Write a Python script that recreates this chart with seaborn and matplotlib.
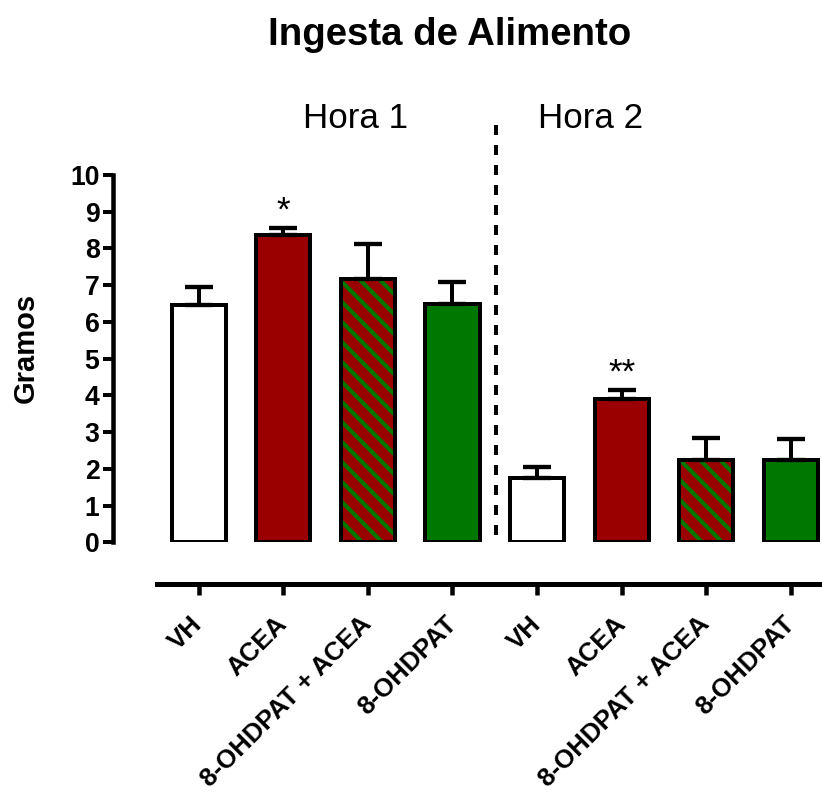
import matplotlib
matplotlib.use("Agg")
import matplotlib.pyplot as plt
from matplotlib.patches import Rectangle
import numpy as np
import pandas as pd
import seaborn as sns

# Food intake (grams) per treatment, first and second hour
horas = ["Hora 1", "Hora 1", "Hora 1", "Hora 1", "Hora 2", "Hora 2", "Hora 2", "Hora 2"]
tratamientos = ["VH", "ACEA", "8-OHDPAT + ACEA", "8-OHDPAT",
                "VH", "ACEA", "8-OHDPAT + ACEA", "8-OHDPAT"]
media = [6.46, 8.36, 7.17, 6.48, 1.75, 3.89, 2.25, 2.25]
error_est = [0.50, 0.20, 0.95, 0.61, 0.30, 0.25, 0.59, 0.55]
significancia = ["", "*", "", "", "", "**", "", ""]
y_ticks = [0, 1, 2, 3, 4, 5, 6, 7, 8, 9, 10]

ROJO = "#9a0000"
VERDE = "#007800"
relleno = {"VH": "white", "ACEA": ROJO, "8-OHDPAT + ACEA": ROJO, "8-OHDPAT": VERDE}

grupos = [f"{h} | {t}" for h, t in zip(horas, tratamientos)]
df = pd.DataFrame({"grupo": grupos, "tratamiento": tratamientos,
                   "hora": horas, "gramos": media})

sns.set_style("ticks")
plt.rcParams["font.family"] = ["Liberation Sans", "DejaVu Sans"]
plt.rcParams["hatch.linewidth"] = 2.5
for k in ["text.color", "axes.labelcolor", "xtick.color", "ytick.color",
          "axes.edgecolor"]:
    plt.rcParams[k] = "black"

DPI = 120
W, H = 822, 796
fig = plt.figure(figsize=(W / DPI, H / DPI), dpi=DPI)
ax = fig.add_axes([112.5 / W, (H - 542.3) / H, 710.4 / W, 367.3 / H])

palette = {g: relleno[t] for g, t in zip(grupos, tratamientos)}
sns.barplot(data=df, x="grupo", y="gramos", hue="grupo", order=grupos,
            hue_order=grupos, palette=palette, errorbar=None, legend=False,
            width=0.64, edgecolor="black", linewidth=2.4, saturation=1,
            ax=ax)

# Combined treatment: green diagonal stripes on red, with a black outline
barras = sorted(ax.patches, key=lambda p: p.get_x())
for barra, trat in zip(barras, tratamientos):
    barra.set_zorder(2)
    if trat == "8-OHDPAT + ACEA":
        barra.set_hatch("\\\\")
        barra.set_edgecolor(VERDE)
        barra.set_linewidth(0)
        ax.add_patch(Rectangle(barra.get_xy(), barra.get_width(),
                               barra.get_height(), fill=False,
                               edgecolor="black", linewidth=2.4, zorder=3))

# Upper SEM whiskers
pos = np.arange(len(media))
ax.errorbar(pos, media, yerr=[np.zeros(len(media)), error_est], fmt="none",
            ecolor="black", elinewidth=2.4, capsize=8.4, capthick=2.6,
            zorder=4)

# Significance marks above the whiskers
for x, m, e, s in zip(pos, media, error_est, significancia):
    if s:
        ax.text(x, m + e + 0.2, s, ha="center", va="baseline",
                fontsize=21, color="black")

# Hour headers and separator
for h in dict.fromkeys(horas):
    idx = [i for i, hh in enumerate(horas) if hh == h]
    xc = 1.85 if idx[0] == 0 else 4.63
    ax.text(xc, 11.27, h, ha="center", va="baseline", fontsize=21,
            clip_on=False)
ax.plot([3.52, 3.52], [0.2, 11.41], color="black", lw=2.4,
        dashes=(2.5, 2.5), clip_on=False, zorder=1)

# Spines (offset bottom axis) before tick labels, since moving a spine
# rebuilds the ticks
sns.despine(ax=ax, top=True, right=True)
ax.spines["left"].set_linewidth(2.7)
ax.spines["bottom"].set_linewidth(3.0)
ax.spines["bottom"].set_position(("outward", 25.2))

ax.tick_params(axis="y", length=6, width=2.4, pad=1.8, colors="black")
ax.tick_params(axis="x", length=6.6, width=2.7, pad=15, colors="black")
ax.set_xlim(-1.02, 7.38)
ax.set_ylim(0, 10)
ax.set_yticks(y_ticks)
ax.set_yticklabels([str(v) for v in y_ticks], fontweight="bold", fontsize=16)
ax.set_xticks(pos)
ax.set_xticklabels(tratamientos, fontweight="bold", fontsize=15.5,
                   rotation=45, ha="right", va="center",
                   rotation_mode="anchor")
ax.set_xlabel("")
ax.set_ylabel("Gramos", fontweight="bold", fontsize=17.5)
ax.yaxis.label.set_va("center")
ax.yaxis.set_label_coords(-0.1225, 0.529)

ax.spines["left"].set_bounds(0, 10)
ax.spines["bottom"].set_bounds(-0.49, 7.38)

fig.text(449.7 / W, 1 - 45 / H, "Ingesta de Alimento", ha="center",
         va="baseline", fontsize=23, fontweight="bold")

fig.savefig("out.png", dpi=DPI)
